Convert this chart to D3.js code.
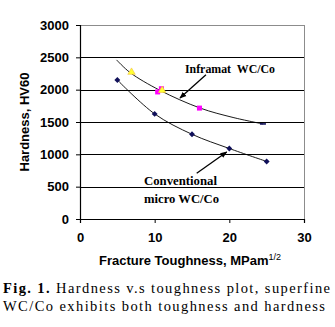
<!DOCTYPE html>
<html>
<head>
<meta charset="utf-8">
<script src="https://cdn.jsdelivr.net/npm/d3@7"></script>
<style>
  html, body { margin: 0; padding: 0; background: #fff; }
  svg { display: block; }
</style>
</head>
<body>
<svg id="chart" width="335" height="327"></svg>
<script>
// Axis ticks
const xTicks = [0, 10, 20, 30];
const yTicks = [0, 500, 1000, 1500, 2000, 2500, 3000];

// Conventional micro-grained WC/Co (navy diamonds)
const convToughness = [5, 10, 15, 20, 25];
const convHardness = [2150, 1625, 1310, 1090, 890];

// Inframat superfine WC/Co
const infraSquareToughness = [10.4, 10.9, 16];
const infraSquareHardness = [1965, 2015, 1715];
const infraTriangleToughness = [6.9, 11.0];
const infraTriangleHardness = [2270, 1990];
const infraEndToughness = [24.5];
const infraEndHardness = [1470];

// Trend curve through the Inframat results
const infraTrendToughness = [4.9, 6.7, 10.7, 16.1, 20.5, 24.5];
const infraTrendHardness = [2460, 2265, 1990, 1715, 1570, 1470];

const svg = d3.select("#chart");
const x = d3.scaleLinear().domain([0, 30]).range([80, 304]);
const y = d3.scaleLinear().domain([0, 3000]).range([219, 25]);

// Plot frame: grey top and right border
svg.append("path")
  .attr("d", `M${x(0)},${y(3000)}H${x(30)}V${y(0)}`)
  .attr("fill", "none").attr("stroke", "#8c8c8c").attr("stroke-width", 1)
  .attr("shape-rendering", "crispEdges");

// Horizontal gridlines
svg.append("g").selectAll("line")
  .data(yTicks.filter(d => d > 0 && d < 3000))
  .join("line")
  .attr("x1", x(0)).attr("x2", x(30))
  .attr("y1", d => Math.round(y(d)) + 0.5).attr("y2", d => Math.round(y(d)) + 0.5)
  .attr("stroke", "#000").attr("stroke-width", 1);

// Axes
const yAxis = svg.append("g")
  .attr("transform", `translate(${x(0)},0)`)
  .call(d3.axisLeft(y).tickValues(yTicks).tickSize(4).tickPadding(7).tickFormat(d3.format("d")));
const xAxis = svg.append("g")
  .attr("transform", `translate(0,${y(0)})`)
  .call(d3.axisBottom(x).tickValues(xTicks).tickSize(4).tickPadding(10).tickFormat(d3.format("d")));
[yAxis, xAxis].forEach(g => {
  g.select(".domain").attr("stroke", "#000").attr("stroke-width", 1.2);
  g.selectAll(".tick line").attr("stroke", "#000");
  g.selectAll("text")
    .attr("font-family", "Liberation Sans, Arial, sans-serif")
    .attr("font-weight", "bold").attr("font-size", 13).attr("fill", "#000");
});

// Axis titles
svg.append("text")
  .attr("transform", `translate(29,${(y(0) + y(3000)) / 2}) rotate(-90)`)
  .attr("text-anchor", "middle")
  .attr("font-family", "Liberation Sans, Arial, sans-serif")
  .attr("font-weight", "bold").attr("font-size", 13)
  .text("Hardness, HV60");

const xt = svg.append("text")
  .attr("x", (x(0) + x(30)) / 2 - 2).attr("y", 265)
  .attr("text-anchor", "middle")
  .attr("font-family", "Liberation Sans, Arial, sans-serif")
  .attr("font-weight", "bold").attr("font-size", 13);
xt.append("tspan").text("Fracture Toughness, MPam");
xt.append("tspan").attr("font-size", 9).attr("font-weight", "normal").attr("dy", -5).text("1/2");

// Trend curves
const line = d3.line().x(d => x(d[0])).y(d => y(d[1])).curve(d3.curveCatmullRom);
svg.append("path")
  .datum(convToughness.map((t, i) => [t, convHardness[i]]))
  .attr("d", line).attr("fill", "none").attr("stroke", "#000").attr("stroke-width", 0.9);
svg.append("path")
  .datum(infraTrendToughness.map((t, i) => [t, infraTrendHardness[i]]))
  .attr("d", line).attr("fill", "none").attr("stroke", "#000").attr("stroke-width", 0.9);

// Markers
svg.append("g").selectAll("path")
  .data(convToughness.map((t, i) => [t, convHardness[i]]))
  .join("path")
  .attr("d", d3.symbol(d3.symbolDiamond2, 22))
  .attr("transform", d => `translate(${x(d[0])},${y(d[1])})`)
  .attr("fill", "#10105a");

svg.append("g").selectAll("rect")
  .data(infraSquareToughness.map((t, i) => [t, infraSquareHardness[i]]))
  .join("rect")
  .attr("x", d => x(d[0]) - 2.5).attr("y", d => y(d[1]) - 2.5)
  .attr("width", 5).attr("height", 5)
  .attr("fill", "#ff00ff");

svg.append("g").selectAll("path")
  .data(infraTriangleToughness.map((t, i) => [t, infraTriangleHardness[i]]))
  .join("path")
  .attr("d", d3.symbol(d3.symbolTriangle, 24))
  .attr("transform", d => `translate(${x(d[0])},${y(d[1])})`)
  .attr("fill", "#ffff33").attr("stroke", "#f0c040").attr("stroke-width", 0.6);

svg.append("g").selectAll("line")
  .data(infraEndToughness.map((t, i) => [t, infraEndHardness[i]]))
  .join("line")
  .attr("x1", d => x(d[0]) - 3).attr("x2", d => x(d[0]) + 3)
  .attr("y1", d => y(d[1])).attr("y2", d => y(d[1]))
  .attr("stroke", "#10105a").attr("stroke-width", 1.6);

// Annotations with arrows
const defs = svg.append("defs");
defs.append("marker")
  .attr("id", "arrow").attr("viewBox", "0 0 10 10")
  .attr("refX", 9).attr("refY", 5)
  .attr("markerWidth", 7).attr("markerHeight", 7)
  .attr("markerUnits", "userSpaceOnUse")
  .attr("orient", "auto")
  .append("path").attr("d", "M0,1L10,5L0,9Z").attr("fill", "#000");

const arrows = [
  { from: [16.87, 2229], to: [13.39, 1870] },
  { from: [15.63, 707], to: [19.65, 1037] }
];
svg.append("g").selectAll("line")
  .data(arrows)
  .join("line")
  .attr("x1", d => x(d.from[0])).attr("y1", d => y(d.from[1]))
  .attr("x2", d => x(d.to[0])).attr("y2", d => y(d.to[1]))
  .attr("stroke", "#000").attr("stroke-width", 1.3)
  .attr("marker-end", "url(#arrow)");

const labels = [
  { t: 14.06, h: 2262, text: "Inframat  WC/Co", w: 90 },
  { t: 8.57, h: 526, text: "Conventional", w: 73 },
  { t: 8.57, h: 255, text: "micro WC/Co", w: 75 }
];
svg.append("g").selectAll("text")
  .data(labels)
  .join("text")
  .attr("x", d => x(d.t)).attr("y", d => y(d.h))
  .attr("font-family", "Liberation Serif, Times New Roman, serif")
  .attr("font-weight", "bold").attr("font-size", 13)
  .attr("textLength", d => d.w).attr("lengthAdjust", "spacingAndGlyphs")
  .attr("xml:space", "preserve")
  .text(d => d.text);

// Caption
const cap1 = svg.append("text")
  .attr("x", 3).attr("y", 293)
  .attr("font-family", "Liberation Serif, Times New Roman, serif")
  .attr("font-size", 14.5)
  .attr("textLength", 327).attr("lengthAdjust", "spacing");
cap1.append("tspan").attr("font-weight", "bold").text("Fig. 1.");
cap1.append("tspan").text(" Hardness v.s toughness plot, superfine");

svg.append("text")
  .attr("x", 3).attr("y", 311)
  .attr("font-family", "Liberation Serif, Times New Roman, serif")
  .attr("font-size", 14.5)
  .attr("textLength", 322).attr("lengthAdjust", "spacing")
  .text("WC/Co exhibits both toughness and hardness");
</script>
</body>
</html>
